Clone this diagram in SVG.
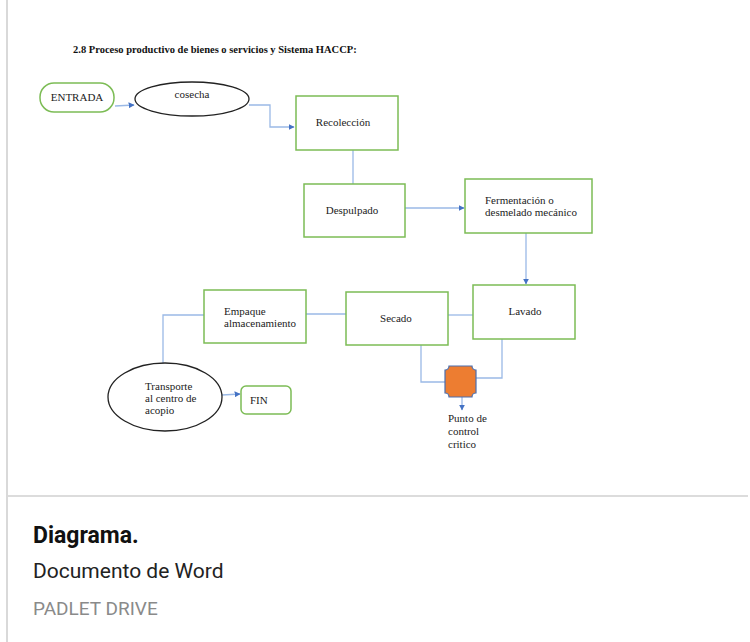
<svg xmlns="http://www.w3.org/2000/svg" width="750" height="642" viewBox="0 0 750 642">
<defs>
<marker id="ah" viewBox="0 0 10 10" refX="9" refY="5" markerWidth="6" markerHeight="6" orient="auto" markerUnits="userSpaceOnUse"><path d="M0,0 L10,5 L0,10 z" fill="#4472c4"/></marker>
<style>
.box{fill:#fff;stroke:#7cbc55;stroke-width:1.5}
.ell{fill:#fff;stroke:#222;stroke-width:1.3}
.t{font-family:"Liberation Serif",serif;font-size:11px;fill:#222}
.c{fill:none;stroke:#9ab9e6;stroke-width:1.3}
.ca{fill:none;stroke:#9ab9e6;stroke-width:1.3;marker-end:url(#ah)}
</style>
</defs>
<rect x="0" y="0" width="750" height="642" fill="#fff"/>
<rect x="6" y="0" width="2" height="642" fill="#d9d9d9"/>
<rect x="8" y="495" width="740" height="2" fill="#dcdcdc"/>
<text x="73" y="53" font-family="Liberation Serif,serif" font-size="10.5" font-weight="bold" fill="#111">2.8 Proceso productivo de bienes o servicios y Sistema HACCP:</text>

<g id="connectors">
<path class="ca" d="M115,106 L134,105"/>
<path class="ca" d="M249,105 L270,105 L270,127 L294,127"/>
<path class="c" d="M353,150 L353,184"/>
<path class="ca" d="M405,208 L464,208"/>
<path class="ca" d="M526,233 L526,284"/>
<path class="c" d="M448,315 L473,315"/>
<path class="c" d="M306,314 L346,314"/>
<path class="c" d="M204,315 L163,315 L163,363"/>
<path class="ca" d="M222,395 L240,394"/>
<path class="c" d="M421,345 L421,382 L445,382"/>
<path class="c" d="M502,339 L502,378 L476,378"/>
<path class="ca" d="M462,397 L462,410"/>
</g>

<g id="entrada"><rect class="box" x="40" y="83" width="74" height="29" rx="14"/><text class="t" x="77" y="101" text-anchor="middle">ENTRADA</text></g>
<g id="cosecha"><ellipse class="ell" cx="192" cy="99" rx="57" ry="17"/><text class="t" x="192" y="98" text-anchor="middle">cosecha</text></g>
<g id="recoleccion"><rect class="box" x="296" y="96" width="102" height="54"/><text class="t" x="343" y="126" text-anchor="middle">Recolección</text></g>
<g id="despulpado"><rect class="box" x="304" y="184" width="101" height="53"/><text class="t" x="352" y="214" text-anchor="middle">Despulpado</text></g>
<g id="fermentacion"><rect class="box" x="465" y="179" width="127" height="54"/><text class="t" x="485" y="204">Fermentación o</text><text class="t" x="485" y="216">desmelado mecánico</text></g>
<g id="lavado"><rect class="box" x="473" y="285" width="102" height="54"/><text class="t" x="525" y="315" text-anchor="middle">Lavado</text></g>
<g id="secado"><rect class="box" x="346" y="292" width="102" height="53"/><text class="t" x="396" y="322" text-anchor="middle">Secado</text></g>
<g id="empaque"><rect class="box" x="204" y="290" width="102" height="53"/><text class="t" x="224" y="315">Empaque</text><text class="t" x="224" y="327">almacenamiento</text></g>
<g id="transporte"><ellipse class="ell" cx="165" cy="397" rx="57" ry="34"/><text class="t" x="145" y="390">Transporte</text><text class="t" x="145" y="402">al centro de</text><text class="t" x="145" y="414">acopio</text></g>
<g id="fin"><rect class="box" x="241" y="386" width="50" height="28" rx="5"/><text class="t" x="250" y="404">FIN</text></g>
<g id="pcc"><path d="M449,366 L472,366 A4,4 0 0 0 476,370 L476,393 A4,4 0 0 0 472,397 L449,397 A4,4 0 0 0 445,393 L445,370 A4,4 0 0 0 449,366 Z" fill="#ed7d31" stroke="#4a6fb0" stroke-width="1.2"/><text class="t" x="448" y="422">Punto de</text><text class="t" x="448" y="435">control</text><text class="t" x="448" y="448">critico</text></g>

<text x="33" y="543" font-family="Roboto,sans-serif" font-size="23" font-weight="bold" fill="#111">Diagrama.</text>
<text x="33" y="578" font-family="Roboto,sans-serif" font-size="21" fill="#222">Documento de Word</text>
<text x="33" y="615" font-family="Roboto,sans-serif" font-size="19" fill="#8a8a8a">PADLET DRIVE</text>
</svg>
